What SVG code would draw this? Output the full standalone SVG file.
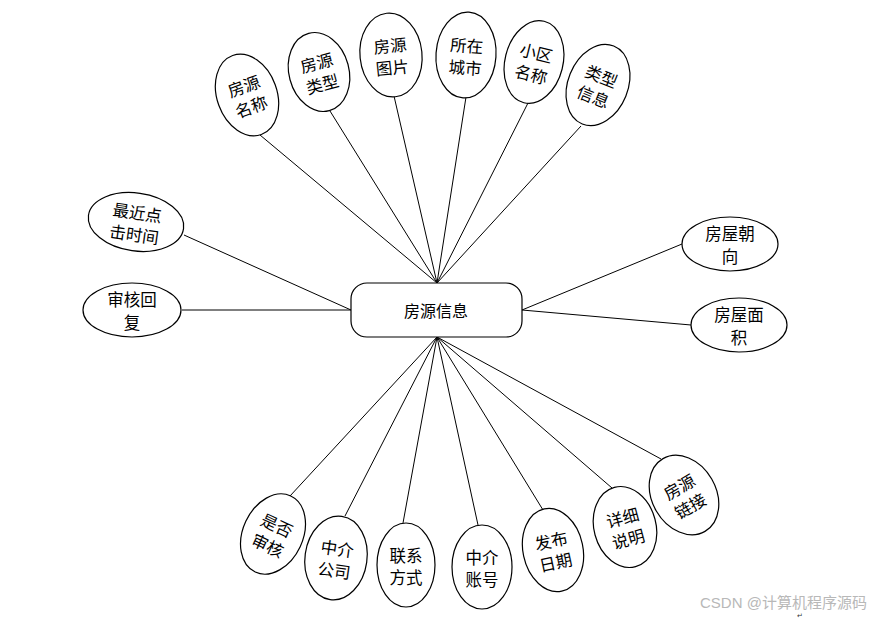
<svg xmlns="http://www.w3.org/2000/svg" width="885" height="620" viewBox="0 0 885 620">
<style>
.e{fill:#fff;stroke:#000;stroke-width:1.2}
.t{font-family:"Noto Sans CJK SC","Noto Sans CJK JP",sans-serif;font-size:16.5px;fill:#000;text-anchor:middle;dominant-baseline:central}
.c line{stroke:#000;stroke-width:1}
.wm{font-family:"Liberation Sans","Noto Sans CJK SC",sans-serif;font-size:15px;fill:#b8b8b8}
</style>
<rect width="885" height="620" fill="#fff"/>
<g class="c">
<line x1="260" y1="135" x2="437" y2="283"/>
<line x1="330" y1="111" x2="437" y2="283"/>
<line x1="394" y1="96" x2="437" y2="283"/>
<line x1="466" y1="97" x2="437" y2="283"/>
<line x1="528" y1="103" x2="437" y2="283"/>
<line x1="581" y1="126" x2="437" y2="283"/>
<line x1="184" y1="235" x2="351" y2="310"/>
<line x1="182" y1="310" x2="351" y2="310"/>
<line x1="682" y1="244" x2="522" y2="310"/>
<line x1="691" y1="325" x2="522" y2="310"/>
<line x1="290" y1="496" x2="437" y2="337"/>
<line x1="345" y1="516" x2="437" y2="337"/>
<line x1="403" y1="523" x2="437" y2="337"/>
<line x1="478" y1="525" x2="437" y2="337"/>
<line x1="543" y1="510" x2="437" y2="337"/>
<line x1="612" y1="488" x2="437" y2="337"/>
<line x1="661" y1="459" x2="437" y2="337"/>
</g>
<g id="center"><rect x="351" y="283" width="171" height="54" rx="16" class="e"/><text x="436" y="310" class="t" style="font-size:16px">房源信息</text></g>
<g id="n1" transform="translate(247,95) rotate(-20)"><ellipse rx="30" ry="42" class="e"/><text y="-10" class="t">房源</text><text y="12" class="t">名称</text></g>
<g id="n2" transform="translate(319,72) rotate(-15)"><ellipse rx="30" ry="40" class="e"/><text y="-10" class="t">房源</text><text y="12" class="t">类型</text></g>
<g id="n3" transform="translate(391,55) rotate(-6)"><ellipse rx="31" ry="42" class="e"/><text y="-10" class="t">房源</text><text y="12" class="t">图片</text></g>
<g id="n4" transform="translate(466,55) rotate(4)"><ellipse rx="30" ry="43" class="e"/><text y="-10" class="t">所在</text><text y="12" class="t">城市</text></g>
<g id="n5" transform="translate(534,62) rotate(14)"><ellipse rx="29" ry="42" class="e"/><text y="-10" class="t">小区</text><text y="12" class="t">名称</text></g>
<g id="n6" transform="translate(598,85) rotate(22)"><ellipse rx="30" ry="42" class="e"/><text y="-10" class="t">类型</text><text y="12" class="t">信息</text></g>
<g id="n7" transform="translate(136,222) rotate(8)"><ellipse rx="48" ry="29" class="e"/><text y="-10" class="t">最近点</text><text y="12" class="t">击时间</text></g>
<g id="n8" transform="translate(132,310)"><ellipse rx="49" ry="27" class="e"/><text y="-11" class="t">审核回</text><text y="12" class="t">复</text></g>
<g id="n9" transform="translate(730,244)"><ellipse rx="48" ry="27" class="e"/><text y="-11" class="t">房屋朝</text><text y="12" class="t">向</text></g>
<g id="n10" transform="translate(739,325)"><ellipse rx="48" ry="27" class="e"/><text y="-11" class="t">房屋面</text><text y="12" class="t">积</text></g>
<g id="n11" transform="translate(273,534) rotate(25)"><ellipse rx="30" ry="42" class="e"/><text y="-10" class="t">是否</text><text y="12" class="t">审核</text></g>
<g id="n12" transform="translate(336,558) rotate(8)"><ellipse rx="31" ry="42" class="e"/><text y="-10" class="t">中介</text><text y="12" class="t">公司</text></g>
<g id="n13" transform="translate(406,565)"><ellipse rx="29" ry="42" class="e"/><text y="-10" class="t">联系</text><text y="12" class="t">方式</text></g>
<g id="n14" transform="translate(482,567)"><ellipse rx="30" ry="42" class="e"/><text y="-10" class="t">中介</text><text y="12" class="t">账号</text></g>
<g id="n15" transform="translate(553,550) rotate(-12)"><ellipse rx="30" ry="42" class="e"/><text y="-10" class="t">发布</text><text y="12" class="t">日期</text></g>
<g id="n16" transform="translate(625,527) rotate(-15)"><ellipse rx="31" ry="41" class="e"/><text y="-10" class="t">详细</text><text y="12" class="t">说明</text></g>
<g id="n17" transform="translate(684,495) rotate(-30)"><ellipse rx="32" ry="42" class="e"/><text y="-10" class="t">房源</text><text y="12" class="t">链接</text></g>
<text x="700" y="608" class="wm">CSDN @计算机程序源码</text>
<text x="797" y="618" style="font-family:'DejaVu Sans',sans-serif;font-size:7px;fill:#333">↵</text>
</svg>
